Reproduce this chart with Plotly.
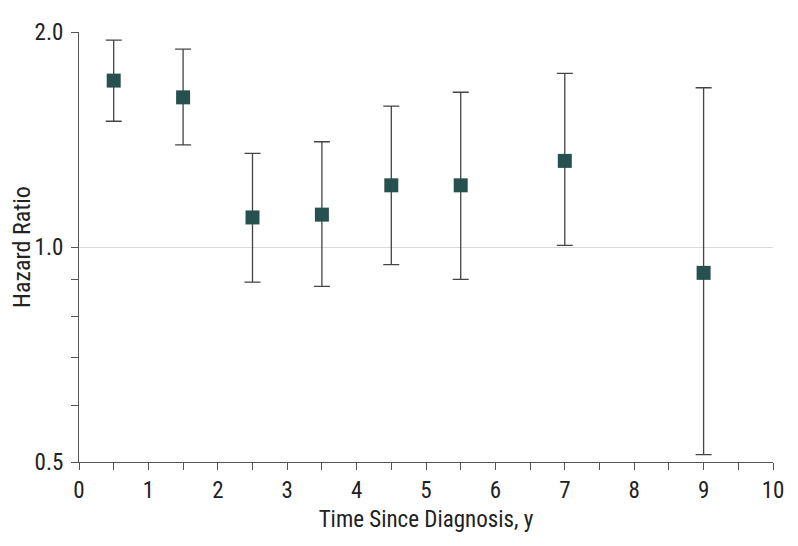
import plotly.graph_objects as go

years = [0.5, 1.5, 2.5, 3.5, 4.5, 5.5, 7, 9]
hazard_ratio = [1.71, 1.62, 1.10, 1.11, 1.22, 1.22, 1.32, 0.92]
ci_lower = [1.50, 1.39, 0.893, 0.881, 0.945, 0.901, 1.005, 0.512]
ci_upper = [1.948, 1.892, 1.352, 1.404, 1.575, 1.647, 1.75, 1.671]

x_tick_vals = [i * 0.5 for i in range(21)]
x_tick_text = [str(int(v)) if v == int(v) else "" for v in x_tick_vals]
y_major_vals = [0.5, 1.0, 2.0]
y_major_text = ["0.5", "1.0", "2.0"]
y_minor_vals = [0.6, 0.7, 0.8, 0.9]

err_plus = [u - h for u, h in zip(ci_upper, hazard_ratio)]
err_minus = [h - l for h, l in zip(hazard_ratio, ci_lower)]

font_family = "Liberation Sans Narrow, Arial Narrow, Roboto Condensed, sans-serif"

fig = go.Figure()
fig.add_trace(go.Scatter(
    x=years, y=hazard_ratio, mode="markers",
    marker=dict(symbol="square", size=14, color="#27514f"),
    error_y=dict(type="data", symmetric=False, array=err_plus, arrayminus=err_minus,
                 color="#444444", thickness=1.3, width=8),
    showlegend=False,
))

fig.update_layout(
    width=798, height=546,
    margin=dict(l=71, r=33, t=24, b=92),
    paper_bgcolor="white", plot_bgcolor="white",
    font=dict(family=font_family, size=23, color="#222222"),
    xaxis=dict(
        range=[0, 10], tickmode="array", tickvals=x_tick_vals, ticktext=x_tick_text,
        ticks="outside", ticklen=7, tickcolor="#555555", showgrid=False, zeroline=False,
        showline=True, linecolor="#555555", linewidth=1, automargin=False,
        title=dict(text="Time Since Diagnosis, y", font=dict(size=23), standoff=8),
    ),
    yaxis=dict(
        type="log", range=[-0.30103, 0.30103], tickmode="array",
        tickvals=y_major_vals, ticktext=y_major_text,
        ticks="outside", ticklen=7, tickcolor="#555555", ticklabelstandoff=3,
        showgrid=True, gridcolor="#d9d9d9", gridwidth=1.2, zeroline=False,
        showline=True, linecolor="#555555", linewidth=1, automargin=False,
        minor=dict(tickmode="array", tickvals=y_minor_vals, ticks="outside", ticklen=7,
                   tickcolor="#555555", showgrid=False),
        title=dict(text="Hazard Ratio", font=dict(size=24), standoff=20),
    ),
)

fig.write_html("out.html")
